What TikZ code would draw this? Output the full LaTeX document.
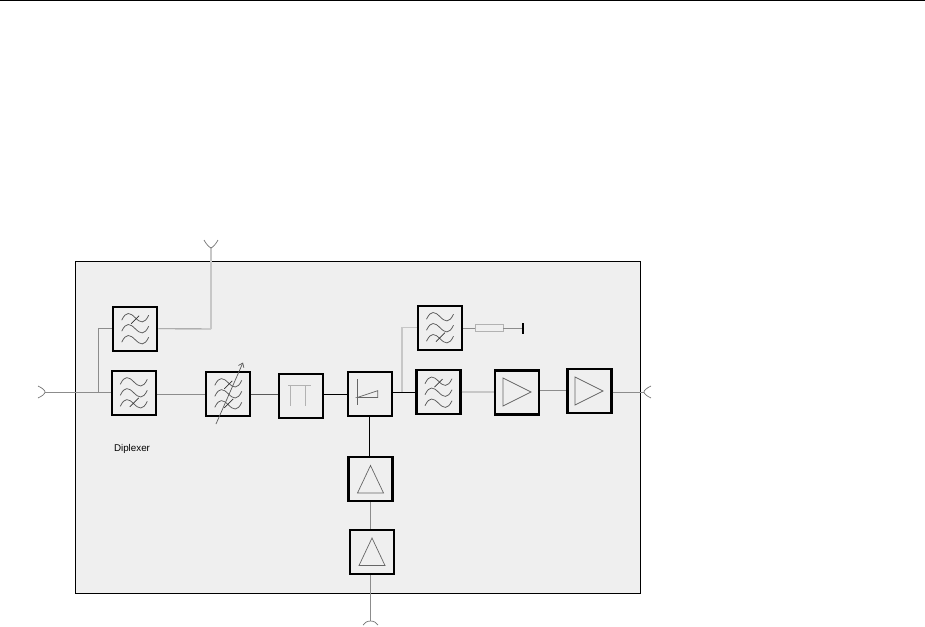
\documentclass[tikz,border=0pt]{standalone}
\usepackage{fontspec}
\setmainfont{Liberation Sans}
\usetikzlibrary{arrows.meta}
\definecolor{panel}{HTML}{EFEFEF}
\tikzset{
  x=1pt,y=-1pt,
  block/.style={draw=black,line width=2.3pt,fill=panel,inner sep=0pt,minimum width=#1,minimum height=44pt},
  block/.default=44pt,
  wire/.style={draw=black!45,line width=0.9pt},
  palewire/.style={draw=black!22,line width=1.5pt},
  darkwire/.style={draw=black,line width=0.9pt},
  glyph/.style={draw=black!60,line width=0.7pt},
  wavestroke/.style={draw=black!65,line width=0.75pt},
  port/.style={draw=black!55,line width=0.7pt},
  pics/threewaves/.style={code={
    \foreach \yy in {-11,0,11}{
      \draw[wavestroke] (-13.5,\yy+2.5) .. controls (-9,\yy-7) and (-5,\yy-5) .. (0,\yy) .. controls (5,\yy+5) and (9,\yy+7) .. (13.5,\yy-2.5);
    }
  }},
  pics/crosstop/.style={code={\draw[draw=black!80,line width=0.75pt] (-4,-5) -- (4,-13);}},
  pics/crossbottom/.style={code={\draw[draw=black!80,line width=0.75pt] (-4,14) -- (5,5);}},
  pics/ampright/.style={code={\draw[glyph] (-14,-14) -- (14,0) -- (-14,14) -- cycle;}},
  pics/ampup/.style={code={\draw[glyph] (0,-14) -- (13,13.5) -- (-13,13.5) -- cycle;}},
}
\begin{document}
\begin{tikzpicture}
\useasboundingbox (0,0) rectangle (925,626);
\coordinate (topL) at (0,0.5);
\coordinate (topR) at (925,0.5);
\draw[black,line width=1pt] (topL) -- (topR);
\node[draw=black,line width=1.1pt,fill=panel,minimum width=565pt,minimum height=332pt,inner sep=0pt] (panel) at (358.2,427.5) {};

% ports and junctions
\coordinate (portIn) at (45,392);
\coordinate (portAnt) at (211,248);
\coordinate (portOut) at (644,392);
\coordinate (portIF) at (370.5,621);
\coordinate (j1) at (98,392);
\coordinate (j2) at (211,329);
\coordinate (j3) at (402,392);
\coordinate (stub) at (523,328);

% blocks
\node[block] (f1) at (135.2,328.7) {};
\node[block] (f2) at (133.8,392.8) {};
\node[block] (vf) at (228.3,393.8) {};
\node[block] (pi) at (301,396) {};
\node[block] (mx) at (369.7,394.2) {};
\node[block] (f3) at (440,327.7) {};
\node[block] (f4) at (438.5,392.2) {};
\node[block] (a1) at (517,392.5) {};
\node[block] (a2) at (589.5,391.2) {};
\node[block] (d1) at (370.5,479.3) {};
\node[block] (d2) at (372,552) {};
\node[draw=black!30,line width=0.8pt,fill=panel,minimum width=28pt,minimum height=7pt,inner sep=0pt] (res) at (489,328) {};

% connectors
\draw[wire] (portIn) -- (f2.west |- portIn);
\draw[wire] (j1) |- (f1.west);
\draw[wire] (f1.east) -- (j2);
\draw[palewire] (j2) -- (portAnt);
\draw[wire] (f2.east |- 0,394) -- (vf.west |- 0,394);
\draw[darkwire,draw=black!65] (vf.east |- 0,394) -- (pi.west |- 0,394);
\draw[darkwire] (pi.east |- 0,394) -- (mx.west |- 0,394);
\draw[darkwire] (mx.east |- 0,392) -- (f4.west |- 0,392);
\draw[palewire] (j3) |- (f3.west);
\draw[wire] (f3.east |- res) -- (res.west);
\draw[wire] (res.east) -- (stub);
\draw[palewire] (f4.east |- 0,392) -- (a1.west |- 0,392);
\draw[wire] (a1.east |- 0,390) -- (a2.west |- 0,390);
\draw[wire] (a2.east |- portOut) -- (portOut);
\draw[darkwire] (mx.south) -- (d1.north -| mx.south);
\draw[wire] (d1.south) -- (d2.north -| d1.south);
\draw[wire] (d2.south -| portIF) -- (portIF);

% port glyphs
\draw[port] (38,386) .. controls (42,388) and (45,390) .. (portIn) .. controls (45,394) and (42,396) .. (38,398);
\draw[port] (204,240) .. controls (206,244) and (209,247) .. (portAnt) .. controls (213,247) and (216,244) .. (218,240);
\draw[port] (651,386) .. controls (647,388) and (644,390) .. (portOut) .. controls (644,394) and (647,396) .. (651,398);
\draw[port] (363,625) .. controls (364,623) and (367,621) .. (portIF) .. controls (374,621) and (377,623) .. (378,625);
\draw[black,line width=1.4pt] (stub |- 0,323) -- (stub |- 0,334);

% block glyphs
\pic at (f1) {threewaves}; \pic at (f1) {crosstop};
\pic at (f2) {threewaves}; \pic at (f2) {crossbottom};
\pic at (vf) {threewaves}; \pic at (vf) {crosstop}; \pic at (vf) {crossbottom};
\pic at (f3) {threewaves}; \pic at (f3) {crossbottom};
\pic at (f4) {threewaves}; \pic at (f4) {crosstop};
\draw[draw=black!65,line width=0.7pt,-{Straight Barb[length=4pt,width=6pt]}] (216,424) -- (243,362.5);
\draw[draw=black!30,line width=0.9pt] (288,385) -- (311,385) (290,385) -- (290,406) (305,385) -- (305,406);
\draw[glyph] (357.3,379) -- (357.3,405);
\draw[glyph] (357.3,397.5) -- (377.7,390.7) -- (377.7,397.5) -- cycle;
\pic at (517,392) {ampright};
\pic at (589,391) {ampright};
\pic at (370.5,479.5) {ampup};
\pic at (372,552) {ampup};

\node[font=\fontsize{9.8}{12}\selectfont,inner sep=0pt] (lbl) at (132,449) {Diplexer};
\end{tikzpicture}
\end{document}
